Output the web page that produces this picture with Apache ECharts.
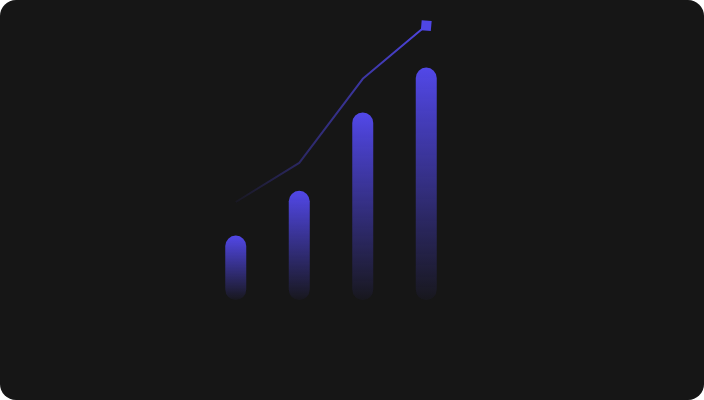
<!DOCTYPE html>
<html>
<head>
<meta charset="utf-8">
<script src="https://cdn.jsdelivr.net/npm/echarts@6/dist/echarts.min.js"></script>
<style>
html,body{margin:0;padding:0;background:#ffffff;width:704px;height:400px;overflow:hidden;}
#card{position:absolute;left:0;top:0;width:704px;height:400px;background:#161616;border-radius:16px;overflow:hidden;}
#chart{width:704px;height:400px;}
</style>
</head>
<body>
<div id="card"><div id="chart"></div></div>
<script>
const categories = ['Q1', 'Q2', 'Q3', 'Q4'];
const barValues = [23, 39, 67, 83];
const lineValues = [35, 49, 79, 98];

const chart = echarts.init(document.getElementById('chart'), null, {renderer: 'canvas'});
const accent = '#4f46e5';
chart.setOption({
  animation: false,
  backgroundColor: 'transparent',
  grid: {left: 204, right: 246, top: 20, bottom: 100},
  xAxis: {
    type: 'category', data: categories, boundaryGap: true,
    show: false
  },
  yAxis: {type: 'value', min: 0, max: 100, show: false},
  series: [
    {
      type: 'bar',
      data: barValues,
      barWidth: 21,
      itemStyle: {
        borderRadius: [10.5, 10.5, 10.5, 10.5],
        color: new echarts.graphic.LinearGradient(0, 0, 0, 1, [
          {offset: 0, color: 'rgba(82,72,232,1)'},
          {offset: 1, color: 'rgba(79,70,229,0.04)'}
        ])
      }
    },
    {
      type: 'line',
      data: lineValues,
      symbol: 'none',
      lineStyle: {
        width: 2,
        color: new echarts.graphic.LinearGradient(0, 0, 1, 0, [
          {offset: 0, color: 'rgba(79,70,229,0.05)'},
          {offset: 1, color: 'rgba(79,70,229,1)'}
        ])
      },
      markPoint: {
        symbol: 'rect',
        symbolSize: 10,
        symbolRotate: -5,
        itemStyle: {color: accent},
        label: {show: false},
        data: [{coord: [categories[3], lineValues[3]]}]
      }
    }
  ]
});
</script>
</body>
</html>
